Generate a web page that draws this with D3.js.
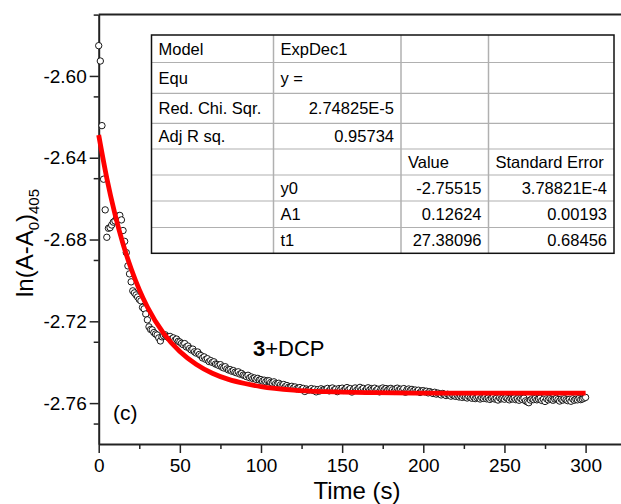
<!DOCTYPE html>
<html>
<head>
<meta charset="utf-8">
<script src="https://cdn.jsdelivr.net/npm/d3@7"></script>
<style>
body { margin: 0; background: #fff; }
svg text { font-family: "Liberation Sans", Arial, sans-serif; fill: #000; }
</style>
</head>
<body>
<div id="chart"></div>
<script>
//////////////////////////////////////////////////////////////////////////////
// Data

// measured ln(A-A0) at 405 nm, one point per second from t = 0 to 300 s
var obsValue = [
  -2.5852, -2.5927, -2.6243, -2.6505, -2.6655, -2.6789, -2.6745, -2.6742, -2.6729, -2.6715,
  -2.6709, -2.6694, -2.6685, -2.6682, -2.6704, -2.6756, -2.6809, -2.6864, -2.6929, -2.6968,
  -2.7007, -2.7051, -2.7061, -2.7071, -2.7081, -2.7093, -2.7100, -2.7132, -2.7139, -2.7164,
  -2.7193, -2.7227, -2.7240, -2.7242, -2.7255, -2.7262, -2.7267, -2.7281, -2.7296, -2.7276,
  -2.7271, -2.7266, -2.7275, -2.7279, -2.7274, -2.7286, -2.7281, -2.7292, -2.7287, -2.7298,
  -2.7301, -2.7308, -2.7314, -2.7309, -2.7325, -2.7321, -2.7333, -2.7340, -2.7336, -2.7349,
  -2.7355, -2.7350, -2.7362, -2.7368, -2.7379, -2.7374, -2.7386, -2.7383, -2.7397, -2.7392,
  -2.7401, -2.7398, -2.7409, -2.7411, -2.7416, -2.7412, -2.7424, -2.7428, -2.7422, -2.7433,
  -2.7438, -2.7436, -2.7444, -2.7441, -2.7449, -2.7452, -2.7447, -2.7458, -2.7455, -2.7463,
  -2.7466, -2.7470, -2.7464, -2.7476, -2.7472, -2.7480, -2.7477, -2.7484, -2.7479, -2.7487,
  -2.7485, -2.7492, -2.7488, -2.7495, -2.7490, -2.7491, -2.7499, -2.7502, -2.7496, -2.7505,
  -2.7508, -2.7503, -2.7511, -2.7516, -2.7509, -2.7519, -2.7514, -2.7522, -2.7523, -2.7518,
  -2.7526, -2.7521, -2.7530, -2.7527, -2.7524, -2.7533, -2.7528, -2.7543, -2.7531, -2.7536,
  -2.7535, -2.7529, -2.7538, -2.7532, -2.7545, -2.7534, -2.7541, -2.7530, -2.7537, -2.7533,
  -2.7535, -2.7528, -2.7540, -2.7531, -2.7526, -2.7536, -2.7532, -2.7544, -2.7529, -2.7534,
  -2.7527, -2.7538, -2.7531, -2.7524, -2.7535, -2.7529, -2.7546, -2.7532, -2.7526, -2.7537,
  -2.7530, -2.7523, -2.7534, -2.7528, -2.7541, -2.7531, -2.7525, -2.7536, -2.7529, -2.7533,
  -2.7527, -2.7538, -2.7532, -2.7545, -2.7530, -2.7526, -2.7534, -2.7529, -2.7537, -2.7531,
  -2.7528, -2.7535, -2.7543, -2.7530, -2.7527, -2.7536, -2.7532, -2.7539, -2.7529, -2.7547,
  -2.7534, -2.7531, -2.7538, -2.7533, -2.7540, -2.7536, -2.7543, -2.7537, -2.7548, -2.7541,
  -2.7539, -2.7545, -2.7542, -2.7550, -2.7544, -2.7549, -2.7553, -2.7547, -2.7556, -2.7551,
  -2.7555, -2.7560, -2.7553, -2.7558, -2.7563, -2.7557, -2.7561, -2.7566, -2.7559, -2.7564,
  -2.7567, -2.7562, -2.7570, -2.7565, -2.7572, -2.7566, -2.7571, -2.7575, -2.7568, -2.7573,
  -2.7576, -2.7570, -2.7578, -2.7573, -2.7569, -2.7580, -2.7574, -2.7577, -2.7571, -2.7579,
  -2.7575, -2.7582, -2.7576, -2.7572, -2.7580, -2.7577, -2.7585, -2.7574, -2.7579, -2.7576,
  -2.7581, -2.7573, -2.7578, -2.7584, -2.7577, -2.7580, -2.7575, -2.7583, -2.7579, -2.7586,
  -2.7578, -2.7582, -2.7576, -2.7589, -2.7594, -2.7598, -2.7585, -2.7579, -2.7583, -2.7577,
  -2.7584, -2.7580, -2.7576, -2.7587, -2.7581, -2.7592, -2.7579, -2.7584, -2.7578, -2.7583,
  -2.7586, -2.7580, -2.7577, -2.7583, -2.7590, -2.7581, -2.7585, -2.7578, -2.7584, -2.7588,
  -2.7582, -2.7591, -2.7579, -2.7586, -2.7581, -2.7584, -2.7577, -2.7583, -2.7580, -2.7576,
  -2.7572
];

// red ExpDec1 fit curve, read at these times
var fitTime  = [0, 5, 10, 15, 20, 25, 30, 40, 50, 60, 70, 80, 90, 100, 120, 140, 170, 200, 250, 300];
var fitValue = [-2.6289, -2.6500, -2.6675, -2.6822, -2.6943, -2.7045, -2.7130, -2.7259, -2.7348, -2.7410,
                -2.7454, -2.7484, -2.7504, -2.7519, -2.7536, -2.7544, -2.7549, -2.7551, -2.7551, -2.7551];

var xTicks = [0, 50, 100, 150, 200, 250, 300];
var yTicks = [-2.60, -2.64, -2.68, -2.72, -2.76];

// fit report table
var tableRows = [
  ["Model", "ExpDec1", "", ""],
  ["Equ", "y =", "", ""],
  ["Red. Chi. Sqr.", "2.74825E-5", "", ""],
  ["Adj R sq.", "0.95734", "", ""],
  ["", "", "Value", "Standard Error"],
  ["", "y0", "-2.75515", "3.78821E-4"],
  ["", "A1", "0.12624", "0.00193"],
  ["", "t1", "27.38096", "0.68456"]
];

//////////////////////////////////////////////////////////////////////////////

var width = 621, height = 504;

var xScale = d3.scaleLinear().domain([0, 322]).range([98.7, 621.3]);
var yScale = d3.scaleLinear().domain([-2.78, -2.57]).range([444, 14.6]);

var svg = d3.select("#chart")
    .append("svg")
    .attr("width", width)
    .attr("height", height);

// frame line on top
svg.append("line")
    .attr("x1", xScale(0)).attr("x2", width)
    .attr("y1", yScale(-2.57)).attr("y2", yScale(-2.57))
    .attr("stroke", "#222")
    .attr("stroke-width", 2);

// minor ticks first, major axes drawn over them
var xMinor = d3.range(25, 322, 50);
var yMinor = d3.range(-2.77, -2.57, 0.04);

svg.append("g")
    .attr("transform", "translate(0," + yScale(-2.78) + ")")
    .call(d3.axisBottom(xScale).tickValues(xMinor).tickSize(5).tickFormat(""))
    .call(function(g) { g.select(".domain").remove(); });

svg.append("g")
    .attr("transform", "translate(" + xScale(0) + ",0)")
    .call(d3.axisLeft(yScale).tickValues(yMinor).tickSize(5).tickFormat(""))
    .call(function(g) { g.select(".domain").remove(); });

var xAxis = svg.append("g")
    .attr("transform", "translate(0," + yScale(-2.78) + ")")
    .call(d3.axisBottom(xScale).tickValues(xTicks).tickSize(9).tickSizeOuter(0).tickPadding(6));

// plain hyphen for the minus sign, as in the original
var yAxis = svg.append("g")
    .attr("transform", "translate(" + xScale(0) + ",0)")
    .call(d3.axisLeft(yScale).tickValues(yTicks).tickSize(9).tickSizeOuter(0).tickPadding(3)
          .tickFormat(function(d) { return d.toFixed(2); }));

svg.selectAll(".domain").attr("stroke", "#222").attr("stroke-width", 2);
svg.selectAll(".tick line").attr("stroke", "#222").attr("stroke-width", 1.5);
svg.selectAll(".tick text")
    .style("font-family", "'Liberation Sans', Arial, sans-serif")
    .style("font-size", "19px")
    .attr("fill", "#000");

// axis titles
svg.append("text")
    .attr("x", 357)
    .attr("y", 499)
    .attr("text-anchor", "middle")
    .style("font-size", "24px")
    .text("Time (s)");

var yTitle = svg.append("text")
    .attr("transform", "translate(33,243) rotate(-90)")
    .attr("text-anchor", "middle")
    .style("font-size", "24px");
yTitle.append("tspan").text("ln(A-A");
yTitle.append("tspan").attr("dy", 6).style("font-size", "15px").text("0");
yTitle.append("tspan").attr("dy", -6).text(")");
yTitle.append("tspan").attr("dy", 6).style("font-size", "15px").text("405");

// data points
var obs = obsValue.map(function(v, i) { return {t: i, v: v}; });

svg.append("g")
    .selectAll("circle")
    .data(obs)
    .enter()
    .append("circle")
    .attr("cx", function(d) { return xScale(d.t); })
    .attr("cy", function(d) { return yScale(d.v); })
    .attr("r", 3.2)
    .attr("fill", "#fff")
    .attr("stroke", "#000")
    .attr("stroke-width", 0.9);

// fit curve
var fit = fitTime.map(function(t, i) { return {t: t, v: fitValue[i]}; });

var line = d3.line()
    .x(function(d) { return xScale(d.t); })
    .y(function(d) { return yScale(d.v); })
    .curve(d3.curveMonotoneX);

svg.append("path")
    .datum(fit)
    .attr("d", line)
    .attr("fill", "none")
    .attr("stroke", "#f00")
    .attr("stroke-width", 4.8);

// annotations
svg.append("text")
    .attr("x", 113)
    .attr("y", 420)
    .style("font-size", "21px")
    .text("(c)");

var lab = svg.append("text")
    .attr("x", 253)
    .attr("y", 356)
    .style("font-size", "22px");
lab.append("tspan").style("font-weight", "bold").text("3");
lab.append("tspan").text("+DCP");

//////////////////////////////////////////////////////////////////////////////
// fit report table

var colX = [151.5, 273.5, 401, 488.5, 614];
var rowY = [35, 62.5, 93.3, 123.3, 149, 175, 201, 227.5, 253.3];

var tbl = svg.append("g");

tbl.append("rect")
    .attr("x", colX[0]).attr("y", rowY[0])
    .attr("width", colX[4] - colX[0])
    .attr("height", rowY[8] - rowY[0])
    .attr("fill", "#fff");

tbl.selectAll("line.h")
    .data(rowY.slice(1, 8))
    .enter()
    .append("line")
    .attr("x1", colX[0]).attr("x2", colX[4])
    .attr("y1", function(d) { return d; }).attr("y2", function(d) { return d; })
    .attr("stroke", "#b0b0b0")
    .attr("stroke-width", 1.2);

tbl.selectAll("line.v")
    .data(colX.slice(1, 4))
    .enter()
    .append("line")
    .attr("x1", function(d) { return d; }).attr("x2", function(d) { return d; })
    .attr("y1", rowY[0]).attr("y2", rowY[8])
    .attr("stroke", "#b0b0b0")
    .attr("stroke-width", 1.5);

tbl.append("rect")
    .attr("x", colX[0]).attr("y", rowY[0])
    .attr("width", colX[4] - colX[0])
    .attr("height", rowY[8] - rowY[0])
    .attr("fill", "none")
    .attr("stroke", "#111")
    .attr("stroke-width", 1.5);

// which cells are right aligned (numbers)
function isNumber(s) { return /^-?[0-9.]+(E-?[0-9]+)?$/.test(s); }

tableRows.forEach(function(row, r) {
    row.forEach(function(cell, c) {
        if (cell === "") return;
        var right = isNumber(cell);
        tbl.append("text")
            .attr("x", right ? colX[c + 1] - 7 : colX[c] + 7)
            .attr("y", (rowY[r] + rowY[r + 1]) / 2 + 6)
            .attr("text-anchor", right ? "end" : "start")
            .style("font-size", "16.5px")
            .text(cell);
    });
});
</script>
</body>
</html>
